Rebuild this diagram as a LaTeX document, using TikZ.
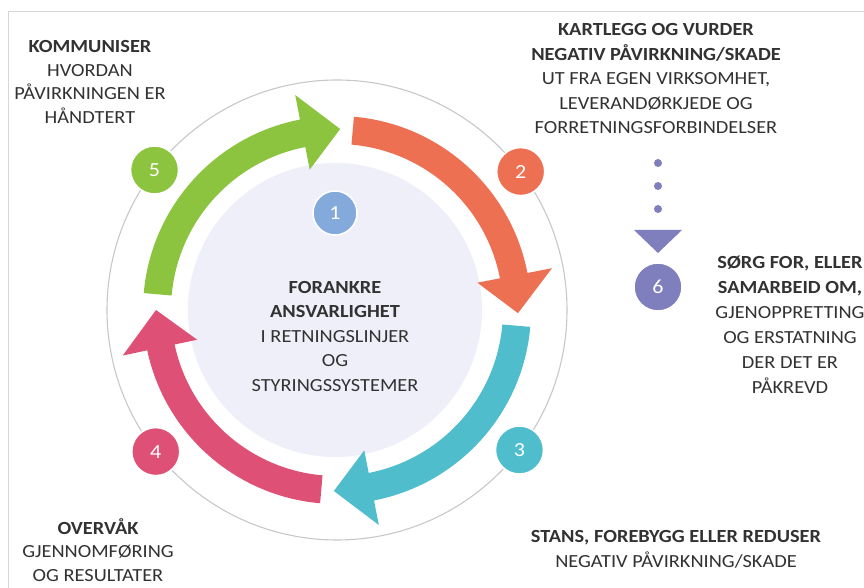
\documentclass[tikz,border=0pt]{standalone}
\usepackage{fontspec}
\setmainfont{Carlito}[FakeStretch=1.1]
\definecolor{cgreen}{RGB}{140,196,63}
\definecolor{corange}{RGB}{238,112,82}
\definecolor{cteal}{RGB}{79,189,204}
\definecolor{cpink}{RGB}{222,80,118}
\definecolor{cblue}{RGB}{132,170,220}
\definecolor{cpurple}{RGB}{128,127,190}
\definecolor{cdisk}{RGB}{239,239,250}
\definecolor{cring}{RGB}{200,200,200}
\definecolor{cframe}{RGB}{215,215,215}
\definecolor{ctext}{RGB}{50,50,50}
\newcommand\cyclarrow[4]{\fill[#1] (#2:194) arc[start angle=#2,end angle=#3,radius=194] -- (#3:219) -- (#4:181) -- (#3:143) -- (#3:166) arc[start angle=#3,end angle=#2,radius=166] -- cycle;}
\begin{document}
\begin{tikzpicture}[x=1pt,y=1pt,
  numc/.style={circle,minimum size=48pt,inner sep=0pt,draw=white,line width=1.5pt,text=white,font=\fontsize{20}{20}\selectfont},
  blk/.style={align=center,text=ctext,inner sep=0pt,font=\fontsize{18.5}{24.5}\selectfont},
  blks/.style={blk,font=\fontsize{18.5}{23.5}\selectfont},
  dotc/.style={cpurple}]
\useasboundingbox (0,0) rectangle (864,588);
\fill[white] (0,0) rectangle (864,588);
\draw[cframe,line width=1pt] (8,0) -- (8,576) -- (864,576);
\begin{scope}[shift={(337,278)}]
  \draw[cring,line width=1.1pt] (0,0) circle[radius=230];
  \fill[cdisk] (-2,0) circle[radius=147];
  \cyclarrow{corange}{85}{11}{-1}
  \cyclarrow{cteal}{-5}{-79}{-91}
  \cyclarrow{cpink}{-95}{-168}{-180}
  \cyclarrow{cgreen}{175}{101}{89}
  \node[numc,fill=cblue,minimum size=44pt] (n1) at (-2,97) {1};
  \node[numc,fill=corange] (n2) at (37:230) {2};
  \node[numc,fill=cteal] (n3) at (-37.5:230) {3};
  \node[numc,fill=cpink] (n4) at (-142:230) {4};
  \node[numc,fill=cgreen] (n5) at (142.5:230) {5};
  \node[blk] (t1) at (-2,-26.5) {\textbf{FORANKRE}\\\textbf{ANSVARLIGHET}\\I RETNINGSLINJER\\OG\\STYRINGSSYSTEMER};
\end{scope}
\node[numc,fill=cpurple] (n6) at (658,301) {6};
\coordinate (d1) at (658,425);
\coordinate (d2) at (658,402);
\coordinate (d3) at (658,379);
\foreach \d in {d1,d2,d3} \fill[dotc] (\d) circle[radius=4];
\fill[dotc] (634,358) -- (682,358) -- (658,335) -- cycle;
\node[blks] (t5) at (90,506) {\textbf{KOMMUNISER}\\HVORDAN\\PÅVIRKNINGEN ER\\HÅNDTERT};
\node[blk] (t2) at (656,509) {\textbf{KARTLEGG OG VURDER}\\\textbf{NEGATIV PÅVIRKNING/SKADE}\\UT FRA EGEN VIRKSOMHET,\\LEVERANDØRKJEDE OG\\FORRETNINGSFORBINDELSER};
\node[blk,font=\fontsize{18.5}{25}\selectfont] (t6) at (790,263.5) {\textbf{SØRG FOR, ELLER}\\\textbf{SAMARBEID OM,}\\GJENOPPRETTING\\OG ERSTATNING\\DER DET ER\\PÅKREVD};
\node[blks] (t4) at (98,38) {\textbf{OVERVÅK}\\GJENNOMFØRING\\OG RESULTATER};
\node[blk] (t3) at (676,38.5) {\textbf{STANS, FOREBYGG ELLER REDUSER}\\NEGATIV PÅVIRKNING/SKADE};
\end{tikzpicture}
\end{document}
